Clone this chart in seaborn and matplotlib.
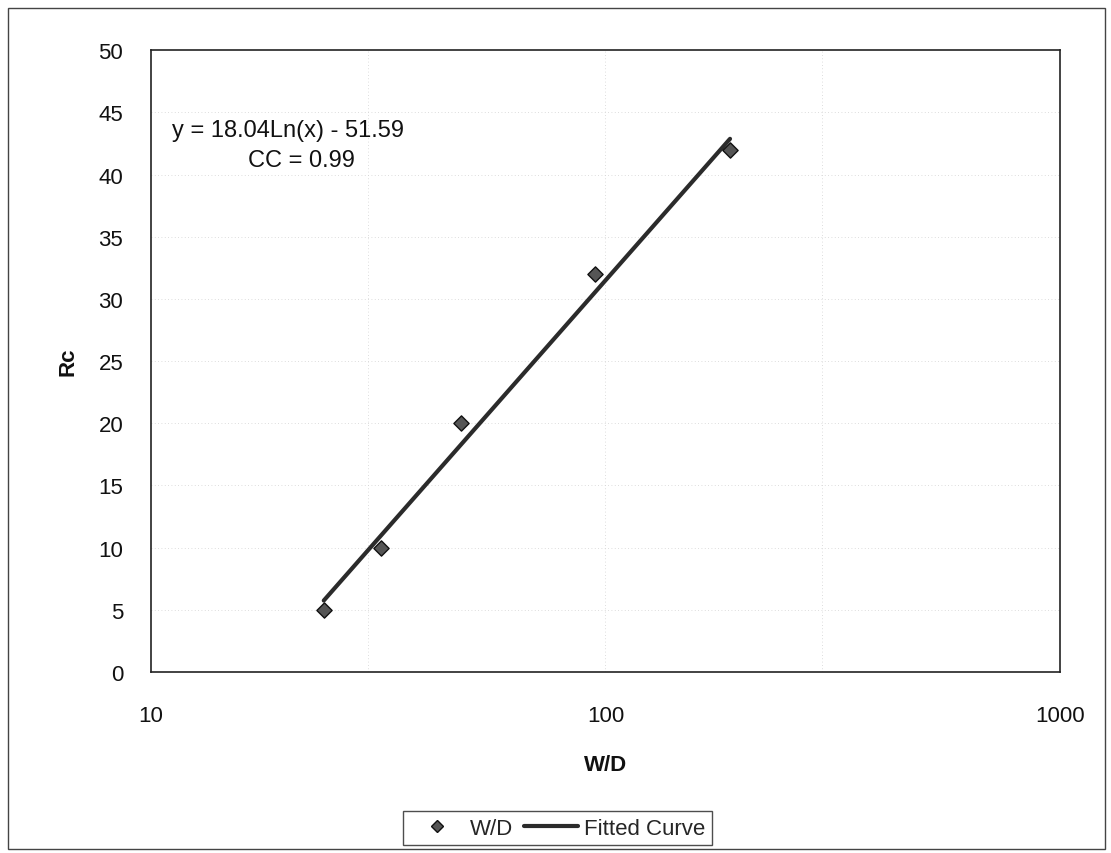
import numpy as np
import pandas as pd
import matplotlib
matplotlib.use("Agg")
import matplotlib.pyplot as plt
from matplotlib.patches import Rectangle
from matplotlib.lines import Line2D
from matplotlib.ticker import FixedLocator, NullLocator, NullFormatter
import seaborn as sns

# Measured ratios and responses
wd_values = [24, 32, 48, 95, 188]
rc_values = [5, 10, 20, 32, 42]

# Logarithmic fit coefficients: Rc = a*ln(W/D) + b
fit_slope = 18.04
fit_intercept = -51.59
fit_cc = 0.99

x_ticks = [10, 100, 1000]
y_ticks = [0, 5, 10, 15, 20, 25, 30, 35, 40, 45, 50]

sns.set_theme(style="white")
plt.rcParams["font.family"] = ["Liberation Sans", "DejaVu Sans"]

points = pd.DataFrame({"W/D": wd_values, "Rc": rc_values})
fit_x = np.geomspace(min(wd_values), max(wd_values), 100)
curve = pd.DataFrame({"W/D": fit_x, "Rc": fit_slope * np.log(fit_x) + fit_intercept})

fig = plt.figure(figsize=(11.11, 8.54), dpi=100)
ax = fig.add_axes([0.1359, 0.212, 0.8181, 0.728])

ax.set_xscale("log")
ax.set_xlim(10, 1000)
ax.set_ylim(0, 50)

# faint dotted grid
for yv in y_ticks[1:-1]:
    ax.axhline(yv, color="#d2d2d2", lw=0.6, ls=(0, (1, 3)), zorder=0)
for xv in [30, 100, 300]:
    ax.axvline(xv, color="#d2d2d2", lw=0.6, ls=(0, (1, 3)), zorder=0)

sns.lineplot(data=curve, x="W/D", y="Rc", ax=ax, color="#2b2b2b", lw=3.0,
             label="Fitted Curve", legend=False, zorder=3)
sns.scatterplot(data=points, x="W/D", y="Rc", ax=ax, marker="D", s=60,
                color="#555555", edgecolor="#111111", linewidth=1.0,
                label="W/D", legend=False, zorder=4)

ax.xaxis.set_major_locator(FixedLocator(x_ticks))
ax.xaxis.set_minor_locator(NullLocator())
ax.xaxis.set_minor_formatter(NullFormatter())
ax.set_xticklabels([str(v) for v in x_ticks])
ax.set_yticks(y_ticks)
ax.set_yticklabels([str(v) for v in y_ticks])

ax.tick_params(axis="both", which="major", direction="out", length=8, width=1,
               color="#222222", labelsize=16, labelcolor="#111111")
ax.tick_params(axis="x", pad=16)
ax.tick_params(axis="y", pad=12)

for side, sp in ax.spines.items():
    sp.set_visible(True)
    sp.set_color("#222222")
    sp.set_linewidth(1.2)

ax.set_xlabel("W/D", fontsize=16, fontweight="bold", color="#111111", labelpad=20)
ax.set_ylabel("Rc", fontsize=16, fontweight="bold", color="#111111", labelpad=14)

ax.text(0.151, 0.871, f"y = {fit_slope:.2f}Ln(x) - {abs(fit_intercept):.2f}",
        transform=ax.transAxes, ha="center", va="center", fontsize=17, color="#111111")
ax.text(0.165, 0.823, f"CC = {fit_cc:.2f}",
        transform=ax.transAxes, ha="center", va="center", fontsize=17, color="#111111")

handles = [
    Line2D([], [], marker="D", ls="none", markersize=6, markerfacecolor="#555555",
           markeredgecolor="#111111"),
    Line2D([], [], color="#2b2b2b", lw=3.0),
]
leg = fig.legend(handles, ["W/D", "Fitted Curve"], loc="center",
                 bbox_to_anchor=(0.502, 0.029), ncol=2, fontsize=16,
                 frameon=True, fancybox=False, handlelength=2.4,
                 handletextpad=0.3, columnspacing=0.5, borderpad=0.3)
leg.get_frame().set_edgecolor("#222222")
leg.get_frame().set_linewidth(1.0)

# outer chart border
fig.patches.append(Rectangle((0.007, 0.005), 0.988, 0.985, transform=fig.transFigure,
                             fill=False, edgecolor="#444444", lw=1.0))

fig.savefig("out.png", dpi=100, facecolor="white")
